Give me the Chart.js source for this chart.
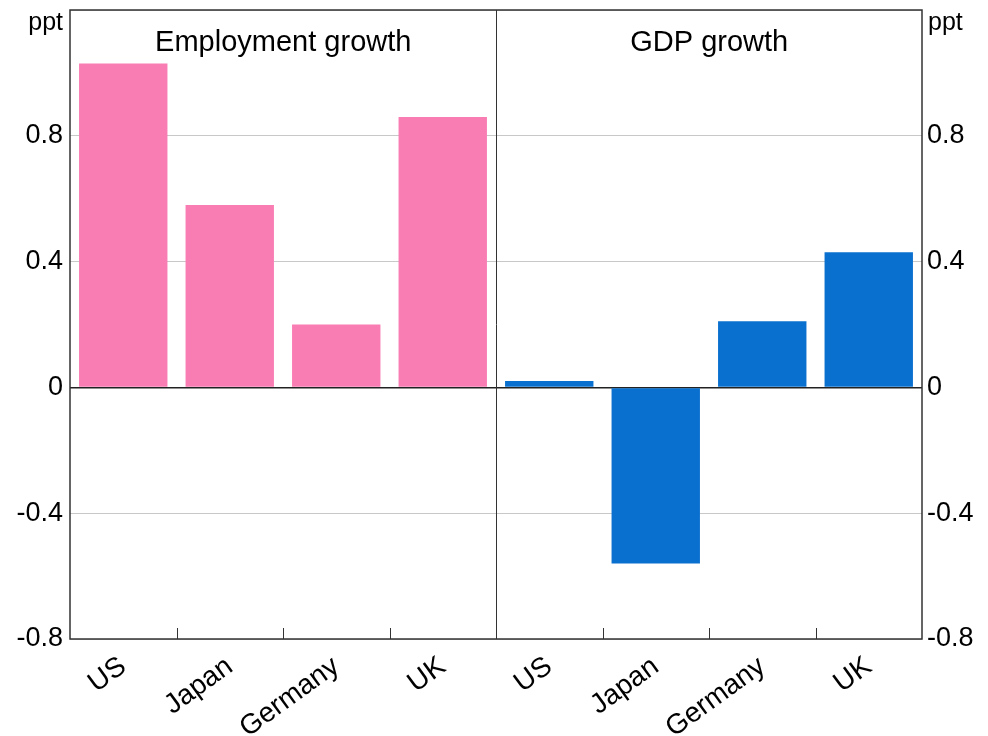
<!DOCTYPE html>
<html>
<head>
<meta charset="utf-8">
<script src="https://cdn.jsdelivr.net/npm/chart.js@4/dist/chart.umd.min.js"></script>
<style>
  html, body { margin: 0; padding: 0; background: #fff; }
  #wrap { width: 988px; height: 736px; }
</style>
</head>
<body>
<div id="wrap"><canvas id="chart" width="988" height="736"></canvas></div>
<script>
const categories = ['US', 'Japan', 'Germany', 'UK', 'US', 'Japan', 'Germany', 'UK'];
const panelTitles = ['Employment growth', 'GDP growth'];
const employment = [1.03, 0.58, 0.20, 0.86, null, null, null, null];
const gdp = [null, null, null, null, 0.02, -0.56, 0.21, 0.43];
const yMin = -0.8, yMax = 1.2, yStep = 0.4;

const FONT = "'Liberation Sans', Arial, sans-serif";

function fmtTick(v) {
    if (Math.abs(v - yMax) < 1e-6) return '';
    const r = Math.round(v * 10) / 10;
    return r === 0 ? '0' : r.toString();
}

// frame, divider, tick marks, panel titles, units
const decor = {
    id: 'decor',
    afterDraw(chart) {
        const ctx = chart.ctx;
        const a = chart.chartArea;
        const x = chart.scales.x;
        ctx.save();
        ctx.strokeStyle = '#333';
        ctx.lineWidth = 1;
        // category boundary tick marks along bottom
        for (let i = 1; i < categories.length; i++) {
            const px = Math.round((x.getPixelForValue(i - 1) + x.getPixelForValue(i)) / 2) + 0.5;
            ctx.beginPath();
            ctx.moveTo(px, a.bottom);
            ctx.lineTo(px, a.bottom - 11);
            ctx.stroke();
        }
        // divider between the two panels
        const mid = Math.round((x.getPixelForValue(3) + x.getPixelForValue(4)) / 2) + 0.5;
        ctx.beginPath();
        ctx.moveTo(mid, a.top);
        ctx.lineTo(mid, a.bottom);
        ctx.stroke();
        // frame
        ctx.lineWidth = 1.5;
        ctx.strokeRect(a.left, a.top, a.right - a.left, a.bottom - a.top);
        // panel titles
        ctx.fillStyle = '#000';
        ctx.font = '29px ' + FONT;
        ctx.textAlign = 'center';
        ctx.textBaseline = 'middle';
        ctx.fillText(panelTitles[0], (a.left + mid) / 2, a.top + 33);
        ctx.fillText(panelTitles[1], (mid + a.right) / 2, a.top + 33);
        // units
        ctx.font = '25px ' + FONT;
        ctx.textAlign = 'right';
        ctx.fillText('ppt', a.left - 7, a.top + 13);
        ctx.textAlign = 'left';
        ctx.fillText('ppt', a.right + 6, a.top + 13);
        ctx.restore();
    }
};

function fitY(width) {
    return s => {
        s.width = width;
        s.paddingTop = 0;
        s.paddingBottom = 0;
    };
}

new Chart(document.getElementById('chart'), {
    type: 'bar',
    data: {
        labels: categories,
        datasets: [
            { label: 'Employment growth', data: employment, backgroundColor: '#F97DB3', yAxisID: 'y' },
            { label: 'GDP growth', data: gdp, backgroundColor: '#0A70CF', yAxisID: 'y' }
        ]
    },
    options: {
        responsive: false,
        animation: false,
        devicePixelRatio: 1,
        skipNull: true,
        barPercentage: 0.83,
        categoryPercentage: 1.0,
        layout: { padding: { top: 10, left: 0, right: 0, bottom: 0 } },
        plugins: {
            legend: { display: false },
            title: { display: false },
            tooltip: { enabled: false }
        },
        scales: {
            x: {
                grid: { display: false, drawTicks: false },
                border: { display: false },
                ticks: {
                    color: '#000',
                    font: { family: FONT, size: 28 },
                    minRotation: 36,
                    maxRotation: 36,
                    padding: 11,
                    autoSkip: false
                },
                afterFit(s) {
                    s.height = 97;
                    s.paddingLeft = 0;
                    s.paddingRight = 0;
                }
            },
            y: {
                position: 'left',
                min: yMin, max: yMax,
                grid: {
                    drawTicks: false,
                    color: ctx => Math.abs(ctx.tick.value) < 1e-6 ? '#222' : '#c8c8c8',
                    lineWidth: ctx => Math.abs(ctx.tick.value) < 1e-6 ? 1.5 : 1
                },
                border: { display: false },
                ticks: {
                    stepSize: yStep,
                    color: '#000',
                    font: { family: FONT, size: 27 },
                    padding: 7,
                    callback: fmtTick
                },
                afterFit: fitY(70)
            },
            y2: {
                position: 'right',
                min: yMin, max: yMax,
                grid: { display: false, drawTicks: false },
                border: { display: false },
                ticks: {
                    stepSize: yStep,
                    color: '#000',
                    font: { family: FONT, size: 27 },
                    padding: 5,
                    callback: fmtTick
                },
                afterFit: fitY(66)
            }
        }
    },
    plugins: [decor]
});
</script>
</body>
</html>
